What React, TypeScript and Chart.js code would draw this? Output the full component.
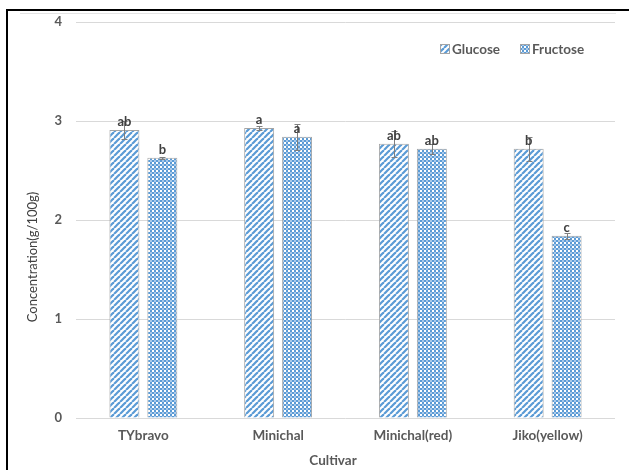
import React, { useEffect, useRef } from "react";
import { Chart, registerables } from "chart.js";

Chart.register(...registerables);

// Sugar content per cultivar (g/100g)
const cultivars = ["TYbravo", "Minichal", "Minichal(red)", "Jiko(yellow)"];
const glucose = [2.91, 2.93, 2.77, 2.72];
const fructose = [2.63, 2.84, 2.72, 1.84];
const glucoseErr = [0.09, 0.02, 0.13, 0.12];
const fructoseErr = [0.01, 0.13, 0.05, 0.03];
const glucoseLetters = ["ab", "a", "ab", "b"];
const fructoseLetters = ["b", "a", "ab", "c"];
const seriesNames = ["Glucose", "Fructose"];
const yMin = 0;
const yMax = 4;
const yStep = 1;

const BLUE = "#5b9bd5";
const BAR_EDGE = "#a5a5a5";
const GRID = "#d9d9d9";
const TEXT = "#595959";
const DARK = "#404040";
const FONT = "Lato, 'Open Sans', sans-serif";

function makeStripes(ctx: CanvasRenderingContext2D): CanvasPattern {
  const n = 6;
  const c = document.createElement("canvas");
  c.width = n;
  c.height = n;
  const g = c.getContext("2d")!;
  g.fillStyle = "#ffffff";
  g.fillRect(0, 0, n, n);
  g.strokeStyle = BLUE;
  g.lineWidth = 2.2;
  for (const o of [-n, 0, n]) {
    g.beginPath();
    g.moveTo(o, n);
    g.lineTo(o + n, 0);
    g.stroke();
  }
  return ctx.createPattern(c, "repeat")!;
}

function makeChecker(ctx: CanvasRenderingContext2D): CanvasPattern {
  const c = document.createElement("canvas");
  c.width = 4;
  c.height = 4;
  const g = c.getContext("2d")!;
  g.fillStyle = "#ffffff";
  g.fillRect(0, 0, 4, 4);
  g.fillStyle = BLUE;
  g.fillRect(0, 0, 2, 2);
  g.fillRect(2, 2, 2, 2);
  g.fillStyle = "#a9c9ea";
  g.fillRect(2, 0, 2, 2);
  return ctx.createPattern(c, "repeat")!;
}

export default function App() {
  const ref = useRef<HTMLCanvasElement>(null);

  useEffect(() => {
    const canvas = ref.current!;
    const ctx = canvas.getContext("2d")!;
    const stripes = makeStripes(ctx);
    const checker = makeChecker(ctx);
    const fills = [stripes, checker];
    const errs = [glucoseErr, fructoseErr];
    const letters = [glucoseLetters, fructoseLetters];

    const decor = {
      id: "decor",
      beforeDraw(chart: Chart) {
        const c = chart.ctx;
        c.save();
        c.fillStyle = "#ffffff";
        c.fillRect(0, 0, chart.width, chart.height);
        c.restore();
      },
      afterDatasetsDraw(chart: Chart) {
        const c = chart.ctx;
        const y = chart.scales.y;
        c.save();
        chart.data.datasets.forEach((ds, di) => {
          const meta = chart.getDatasetMeta(di);
          meta.data.forEach((bar: any, i: number) => {
            const v = ds.data[i] as number;
            const e = errs[di][i];
            const x = Math.round(bar.x) + 0.5;
            const yHi = Math.round(y.getPixelForValue(v + e)) + 0.5;
            const yLo = Math.round(y.getPixelForValue(v - e)) + 0.5;
            c.strokeStyle = "#7f7f7f";
            c.lineWidth = 1;
            c.beginPath();
            c.moveTo(x, yHi);
            c.lineTo(x, yLo);
            c.moveTo(x - 3, yHi);
            c.lineTo(x + 3, yHi);
            c.moveTo(x - 3, yLo);
            c.lineTo(x + 3, yLo);
            c.stroke();
          });
        });
        chart.data.datasets.forEach((ds, di) => {
          const meta = chart.getDatasetMeta(di);
          meta.data.forEach((bar: any, i: number) => {
            c.fillStyle = DARK;
            c.font = `bold 13px ${FONT}`;
            c.textAlign = "center";
            c.textBaseline = "alphabetic";
            c.fillText(letters[di][i], bar.x, bar.y - 4);
          });
        });
        c.restore();
      },
      afterDraw(chart: Chart) {
        const c = chart.ctx;
        c.save();
        // outer frame
        c.fillStyle = "#000000";
        c.fillRect(6, 9, 2, chart.height - 9);
        c.fillRect(6, 9, chart.width - 6, 2);
        c.strokeStyle = "#e3e3e3";
        c.lineWidth = 1;
        c.beginPath();
        c.moveTo(20, 13.5);
        c.lineTo(616, 13.5);
        c.stroke();

        // axis titles
        c.fillStyle = DARK;
        c.font = `13px ${FONT}`;
        c.textAlign = "center";
        c.textBaseline = "middle";
        c.save();
        c.translate(33, 257);
        c.rotate(-Math.PI / 2);
        c.fillText("Concentration(g/100g)", 0, 0);
        c.restore();
        c.font = `bold 13.5px ${FONT}`;
        c.fillStyle = TEXT;
        c.fillText("Cultivar", 333, 461);

        // legend
        const items = [
          { x: 440, fill: stripes },
          { x: 520, fill: checker },
        ];
        items.forEach((it, k) => {
          c.fillStyle = it.fill;
          c.fillRect(it.x, 44, 10, 10);
          c.strokeStyle = BAR_EDGE;
          c.strokeRect(it.x + 0.5, 44.5, 9, 9);
          c.fillStyle = TEXT;
          c.font = `bold 13.5px ${FONT}`;
          c.textAlign = "left";
          c.textBaseline = "middle";
          c.fillText(seriesNames[k], it.x + 12, 49.5);
        });
        c.restore();
      },
    };

    const chart = new Chart(canvas, {
      type: "bar",
      data: {
        labels: cultivars,
        datasets: [glucose, fructose].map((vals, di) => ({
          label: seriesNames[di],
          data: vals,
          backgroundColor: fills[di],
          borderColor: BAR_EDGE,
          borderWidth: 1,
          barPercentage: 0.79,
          categoryPercentage: 0.563,
        })),
      },
      options: {
        responsive: false,
        animation: false,
        devicePixelRatio: 1,
        layout: { padding: { top: 22, right: 14, left: 0, bottom: 0 } },
        plugins: {
          legend: { display: false },
          tooltip: { enabled: false },
        },
        scales: {
          x: {
            grid: { display: false },
            border: { display: false },
            ticks: {
              color: TEXT,
              font: { family: FONT, size: 13.5, weight: "bold" },
              padding: 2,
              maxRotation: 0,
            },
            afterFit(s: any) {
              s.height = 52;
            },
          },
          y: {
            min: yMin,
            max: yMax,
            grid: { color: GRID, drawTicks: false },
            border: { display: false },
            ticks: {
              stepSize: yStep,
              color: TEXT,
              font: { family: FONT, size: 13, weight: "bold" },
              padding: 14,
            },
            afterFit(s: any) {
              s.width = 76;
            },
          },
        },
      },
      plugins: [decor],
    });

    return () => chart.destroy();
  }, []);

  return (
    <div style={{ position: "absolute", left: 0, top: 0, width: 629, height: 470 }}>
      <canvas ref={ref} width={629} height={470} />
    </div>
  );
}
